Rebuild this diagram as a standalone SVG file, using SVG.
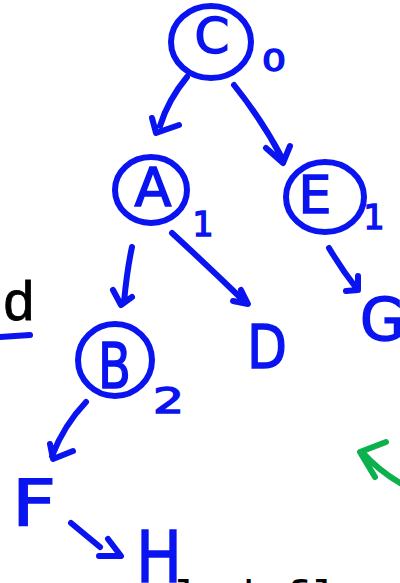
<svg xmlns="http://www.w3.org/2000/svg" width="400" height="583" viewBox="0 0 400 583">
<style>
.ring{fill:none;stroke:#0a14f0;stroke-width:6;stroke-linecap:round}
.ink{fill:none;stroke:#0a14f0;stroke-width:6;stroke-linecap:round;stroke-linejoin:round}
.lbl{fill:#0a14f0;stroke:#0a14f0;stroke-width:1.5;font-family:"DejaVu Sans",sans-serif}
.mid{text-anchor:middle}
.blk{fill:#000;font-family:"Liberation Mono",monospace}
</style>
<rect width="400" height="583" fill="#fff"/>
<g id="connectors">
<path class="ink" d="M187,77 Q168,100 160,126 M152,118 L156,133 L179,125"/>
<path class="ink" d="M234,85 Q262,120 282,158 M266,148 L283,163 L290,146"/>
<path class="ink" d="M132,247 Q127,270 124,302 M113,290 L121,305 L132,297"/>
<path class="ink" d="M172,233 Q210,268 246,303 M233,301 L248,304 L241,290"/>
<path class="ink" d="M329,248 Q342,270 357,289 M346,291 L358,290 L358,276"/>
<path class="ink" d="M86,402 Q64,425 52,456 M50,444 L53,459 L73,451"/>
<path class="ink" d="M71,523 L100,547 M108,539 L121,556 L99,556"/>
<path class="ink" d="M0,337 L30,335"/>
<path fill="none" stroke="#0cb04c" stroke-width="6" stroke-linecap="round" stroke-linejoin="round" d="M400,483 Q378,470 362,452 M386,442 L360,452 L375,477"/>
</g>
<g id="node-C">
<ellipse class="ring" cx="211" cy="42" rx="40" ry="36"/>
<text class="lbl mid" x="212" y="53" font-size="50">C</text>
<text class="lbl" x="262" y="71" font-size="30" textLength="24" lengthAdjust="spacingAndGlyphs">0</text>
</g>
<g id="node-A">
<ellipse class="ring" cx="151" cy="190" rx="36" ry="33"/>
<text class="lbl mid" x="153" y="206" font-size="54">A</text>
<text class="lbl mid" x="203" y="236" font-size="33">1</text>
</g>
<g id="node-E">
<ellipse class="ring" cx="325" cy="197" rx="39" ry="35"/>
<text class="lbl mid" x="315" y="213" font-size="52">E</text>
<text class="lbl mid" x="374" y="229" font-size="33">1</text>
</g>
<g id="node-B">
<ellipse class="ring" cx="115" cy="360" rx="37" ry="36"/>
<text class="lbl" x="98" y="388" font-size="62" textLength="33" lengthAdjust="spacingAndGlyphs">B</text>
<text class="lbl" x="153" y="413" font-size="36" textLength="31" lengthAdjust="spacingAndGlyphs">2</text>
</g>
<g id="node-D">
<text class="lbl" x="247" y="368" font-size="60" textLength="40" lengthAdjust="spacingAndGlyphs">D</text>
</g>
<g id="node-G">
<text class="lbl" x="360" y="340" font-size="58">G</text>
</g>
<g id="node-F">
<text class="lbl" x="12" y="525" font-size="64" textLength="44" lengthAdjust="spacingAndGlyphs">F</text>
</g>
<g id="node-H">
<text class="lbl" x="136" y="582" font-size="72" textLength="46" lengthAdjust="spacingAndGlyphs">H</text>
</g>
<text class="blk" x="2" y="320" font-size="56" stroke="#000" stroke-width="0.8">d</text>
<text class="blk" x="172" y="613" font-size="46">l  d fl</text>
</svg>
